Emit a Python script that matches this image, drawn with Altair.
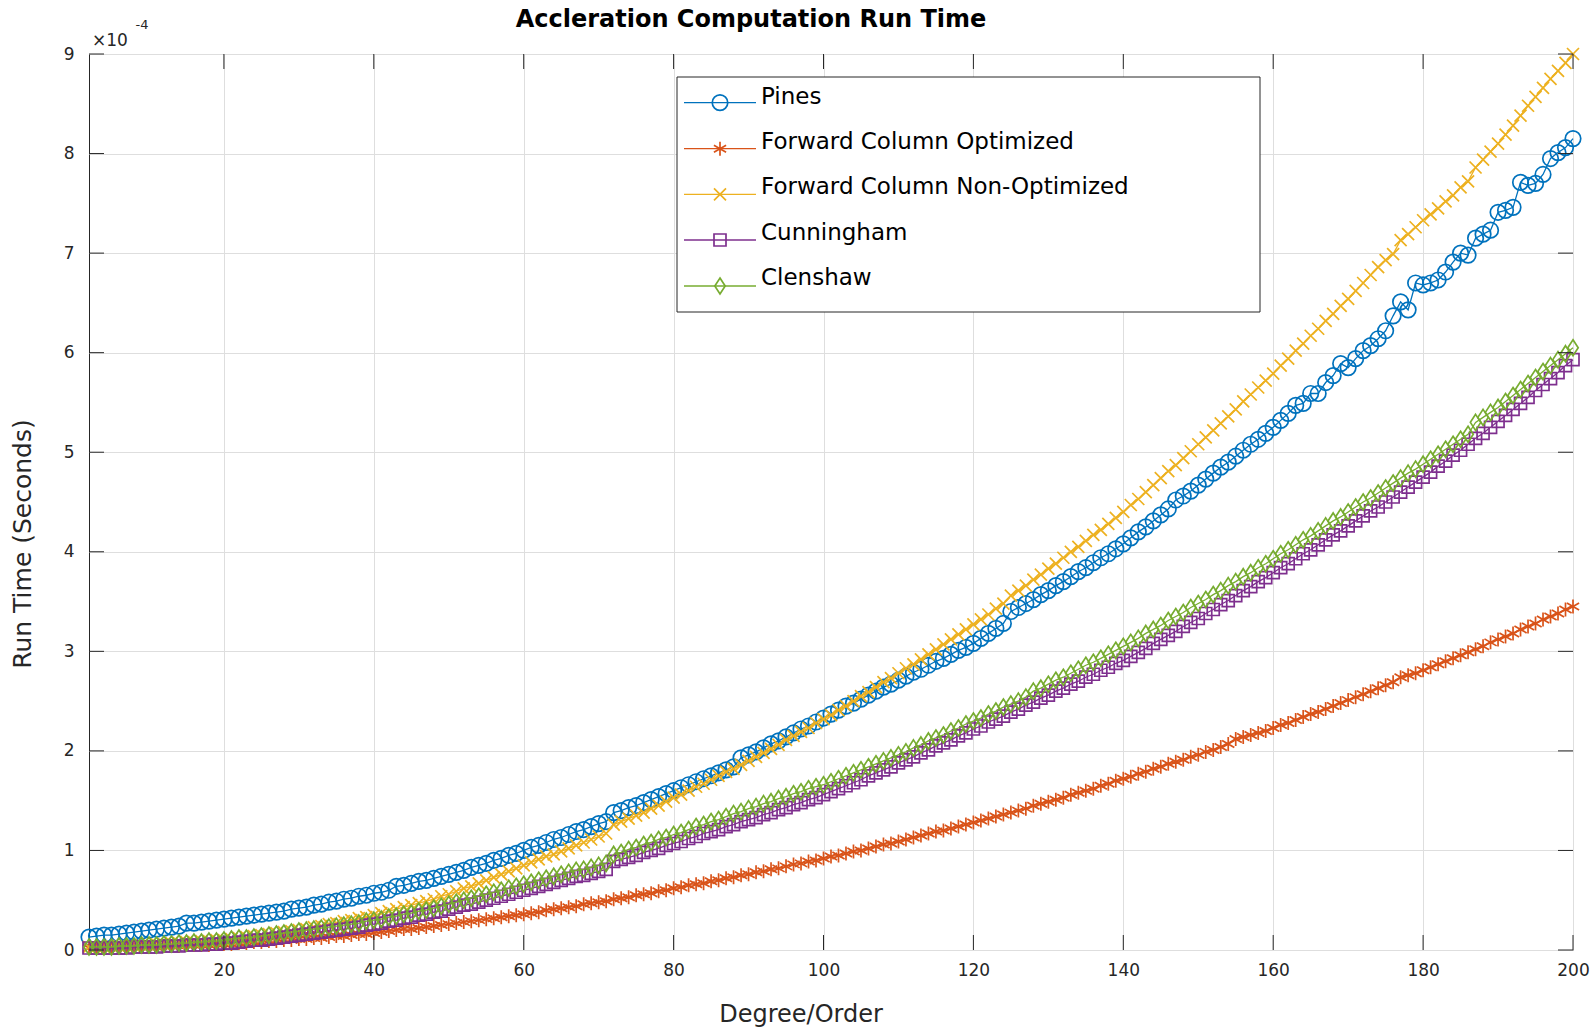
import altair as alt
import pandas as pd

# ---------------- data (run time, units of 1e-4 s) ----------------
degrees = list(range(2, 201))
series_names = ["Pines", "Forward Column Optimized", "Forward Column Non-Optimized",
                "Cunningham", "Clenshaw"]

pines = [
    0.13, 0.14, 0.15, 0.15, 0.16, 0.17, 0.18, 0.19, 0.20,
    0.21, 0.22, 0.23, 0.24, 0.27, 0.27, 0.28, 0.29, 0.30, 0.31,
    0.32, 0.33, 0.34, 0.35, 0.36, 0.37, 0.38, 0.39, 0.41, 0.42,
    0.43, 0.45, 0.46, 0.48, 0.49, 0.51, 0.52, 0.54, 0.55, 0.57,
    0.58, 0.60, 0.64, 0.65, 0.67, 0.69, 0.70, 0.72, 0.74, 0.76,
    0.78, 0.80, 0.83, 0.85, 0.87, 0.90, 0.92, 0.95, 0.97, 1.00,
    1.03, 1.05, 1.08, 1.11, 1.13, 1.16, 1.19, 1.21, 1.24, 1.27,
    1.29, 1.38, 1.40, 1.43, 1.45, 1.48, 1.51, 1.54, 1.57, 1.60,
    1.63, 1.66, 1.69, 1.72, 1.75, 1.78, 1.81, 1.84, 1.93, 1.96,
    1.99, 2.03, 2.07, 2.10, 2.14, 2.18, 2.22, 2.25, 2.29, 2.33,
    2.37, 2.41, 2.45, 2.48, 2.52, 2.56, 2.60, 2.64, 2.67, 2.71,
    2.75, 2.79, 2.82, 2.86, 2.90, 2.93, 2.97, 3.01, 3.04, 3.08,
    3.13, 3.18, 3.23, 3.28, 3.40, 3.44, 3.48, 3.52, 3.57, 3.61,
    3.66, 3.70, 3.75, 3.80, 3.84, 3.89, 3.94, 3.98, 4.03, 4.08,
    4.14, 4.20, 4.25, 4.31, 4.37, 4.43, 4.52, 4.56, 4.61, 4.67,
    4.73, 4.79, 4.85, 4.90, 4.96, 5.02, 5.08, 5.13, 5.19, 5.25,
    5.32, 5.39, 5.47, 5.49, 5.59, 5.59, 5.70, 5.77, 5.89, 5.85,
    5.94, 6.02, 6.07, 6.14, 6.22, 6.37, 6.51, 6.43, 6.70, 6.68,
    6.70, 6.73, 6.81, 6.91, 7.00, 6.98, 7.15, 7.19, 7.23, 7.41,
    7.43, 7.46, 7.71, 7.68, 7.70, 7.79, 7.95, 8.01, 8.06, 8.15,
]

fwd_opt = [
    0.02, 0.02, 0.02, 0.02, 0.02, 0.03, 0.03, 0.03, 0.03,
    0.03, 0.04, 0.04, 0.04, 0.05, 0.05, 0.05, 0.05, 0.06, 0.06,
    0.06, 0.07, 0.07, 0.08, 0.08, 0.09, 0.09, 0.10, 0.10, 0.11,
    0.11, 0.12, 0.12, 0.13, 0.14, 0.14, 0.15, 0.16, 0.16, 0.17,
    0.18, 0.19, 0.20, 0.21, 0.21, 0.22, 0.23, 0.24, 0.25, 0.26,
    0.27, 0.28, 0.29, 0.30, 0.31, 0.32, 0.33, 0.34, 0.35, 0.36,
    0.37, 0.38, 0.40, 0.41, 0.42, 0.43, 0.44, 0.46, 0.47, 0.48,
    0.49, 0.51, 0.52, 0.53, 0.55, 0.56, 0.57, 0.59, 0.60, 0.62,
    0.63, 0.65, 0.66, 0.67, 0.69, 0.70, 0.72, 0.73, 0.75, 0.76,
    0.78, 0.79, 0.81, 0.82, 0.84, 0.86, 0.87, 0.89, 0.90, 0.92,
    0.94, 0.95, 0.97, 0.99, 1.00, 1.02, 1.04, 1.06, 1.07, 1.09,
    1.11, 1.13, 1.15, 1.17, 1.19, 1.20, 1.22, 1.24, 1.26, 1.28,
    1.30, 1.32, 1.34, 1.36, 1.38, 1.40, 1.42, 1.45, 1.47, 1.49,
    1.51, 1.53, 1.56, 1.58, 1.60, 1.62, 1.65, 1.67, 1.70, 1.72,
    1.74, 1.77, 1.79, 1.82, 1.84, 1.87, 1.89, 1.91, 1.94, 1.96,
    1.99, 2.01, 2.04, 2.07, 2.12, 2.14, 2.16, 2.18, 2.20, 2.23,
    2.26, 2.28, 2.31, 2.34, 2.37, 2.39, 2.42, 2.45, 2.48, 2.51,
    2.54, 2.57, 2.60, 2.63, 2.66, 2.69, 2.74, 2.76, 2.78, 2.81,
    2.84, 2.87, 2.90, 2.93, 2.96, 2.99, 3.02, 3.05, 3.09, 3.12,
    3.15, 3.18, 3.22, 3.25, 3.28, 3.32, 3.35, 3.38, 3.42, 3.45,
]

fwd_nonopt = [
    0.03, 0.03, 0.03, 0.04, 0.04, 0.04, 0.04, 0.05, 0.05,
    0.06, 0.06, 0.07, 0.07, 0.08, 0.08, 0.09, 0.09, 0.10, 0.10,
    0.11, 0.12, 0.13, 0.14, 0.15, 0.16, 0.17, 0.18, 0.19, 0.20,
    0.21, 0.23, 0.24, 0.26, 0.27, 0.29, 0.30, 0.32, 0.33, 0.35,
    0.37, 0.39, 0.41, 0.43, 0.45, 0.47, 0.49, 0.51, 0.54, 0.56,
    0.59, 0.62, 0.64, 0.67, 0.70, 0.73, 0.76, 0.79, 0.82, 0.85,
    0.88, 0.91, 0.94, 0.96, 0.99, 1.02, 1.05, 1.08, 1.11, 1.14,
    1.17, 1.26, 1.29, 1.32, 1.35, 1.38, 1.42, 1.45, 1.49, 1.53,
    1.56, 1.60, 1.64, 1.67, 1.71, 1.75, 1.79, 1.82, 1.86, 1.90,
    1.94, 1.98, 2.02, 2.06, 2.11, 2.15, 2.19, 2.23, 2.28, 2.32,
    2.36, 2.41, 2.45, 2.50, 2.55, 2.59, 2.64, 2.69, 2.73, 2.78,
    2.83, 2.87, 2.92, 2.97, 3.02, 3.07, 3.12, 3.17, 3.22, 3.27,
    3.32, 3.37, 3.43, 3.48, 3.56, 3.61, 3.66, 3.72, 3.77, 3.83,
    3.88, 3.94, 4.00, 4.05, 4.11, 4.17, 4.22, 4.28, 4.34, 4.40,
    4.47, 4.53, 4.60, 4.67, 4.74, 4.81, 4.87, 4.94, 5.01, 5.08,
    5.15, 5.22, 5.29, 5.36, 5.43, 5.51, 5.58, 5.65, 5.72, 5.79,
    5.87, 5.94, 6.02, 6.09, 6.17, 6.24, 6.32, 6.39, 6.47, 6.54,
    6.62, 6.70, 6.78, 6.86, 6.93, 6.99, 7.13, 7.19, 7.26, 7.33,
    7.39, 7.45, 7.52, 7.58, 7.66, 7.72, 7.86, 7.94, 8.02, 8.10,
    8.19, 8.28, 8.38, 8.48, 8.57, 8.66, 8.75, 8.83, 8.91, 9.00,
]

cunningham = [
    0.02, 0.02, 0.02, 0.02, 0.02, 0.02, 0.03, 0.03, 0.03,
    0.03, 0.04, 0.04, 0.04, 0.05, 0.05, 0.05, 0.06, 0.06, 0.07,
    0.07, 0.08, 0.09, 0.10, 0.10, 0.11, 0.12, 0.13, 0.14, 0.15,
    0.16, 0.17, 0.18, 0.19, 0.20, 0.21, 0.22, 0.23, 0.25, 0.26,
    0.27, 0.29, 0.30, 0.32, 0.33, 0.35, 0.36, 0.38, 0.39, 0.41,
    0.43, 0.45, 0.46, 0.48, 0.50, 0.52, 0.54, 0.56, 0.58, 0.60,
    0.62, 0.64, 0.66, 0.68, 0.70, 0.72, 0.74, 0.75, 0.77, 0.79,
    0.81, 0.89, 0.91, 0.93, 0.95, 0.98, 1.00, 1.02, 1.05, 1.07,
    1.09, 1.12, 1.14, 1.17, 1.19, 1.21, 1.24, 1.26, 1.29, 1.31,
    1.33, 1.36, 1.38, 1.41, 1.43, 1.46, 1.48, 1.51, 1.53, 1.56,
    1.59, 1.62, 1.65, 1.68, 1.71, 1.75, 1.78, 1.81, 1.84, 1.88,
    1.91, 1.94, 1.98, 2.01, 2.05, 2.08, 2.11, 2.15, 2.18, 2.22,
    2.25, 2.29, 2.32, 2.35, 2.39, 2.42, 2.46, 2.49, 2.53, 2.56,
    2.60, 2.63, 2.67, 2.70, 2.74, 2.77, 2.81, 2.84, 2.88, 2.91,
    2.95, 2.99, 3.03, 3.08, 3.12, 3.16, 3.20, 3.25, 3.29, 3.33,
    3.38, 3.42, 3.47, 3.51, 3.56, 3.61, 3.65, 3.70, 3.74, 3.79,
    3.84, 3.88, 3.93, 3.98, 4.02, 4.07, 4.12, 4.17, 4.21, 4.26,
    4.31, 4.36, 4.41, 4.45, 4.50, 4.55, 4.60, 4.65, 4.70, 4.75,
    4.80, 4.86, 4.91, 4.97, 5.02, 5.08, 5.14, 5.19, 5.25, 5.31,
    5.37, 5.43, 5.49, 5.55, 5.62, 5.68, 5.74, 5.80, 5.87, 5.93,
]

clenshaw = [
    0.03, 0.03, 0.03, 0.03, 0.04, 0.04, 0.04, 0.05, 0.05,
    0.05, 0.06, 0.06, 0.07, 0.07, 0.08, 0.08, 0.09, 0.09, 0.10,
    0.11, 0.12, 0.12, 0.13, 0.14, 0.15, 0.16, 0.17, 0.18, 0.19,
    0.20, 0.21, 0.22, 0.23, 0.24, 0.25, 0.26, 0.27, 0.29, 0.30,
    0.31, 0.33, 0.34, 0.36, 0.37, 0.39, 0.40, 0.42, 0.44, 0.46,
    0.48, 0.50, 0.52, 0.54, 0.56, 0.58, 0.60, 0.62, 0.64, 0.66,
    0.68, 0.70, 0.72, 0.74, 0.76, 0.78, 0.80, 0.81, 0.83, 0.85,
    0.87, 0.96, 0.98, 1.01, 1.03, 1.06, 1.08, 1.11, 1.13, 1.16,
    1.18, 1.21, 1.24, 1.26, 1.29, 1.31, 1.34, 1.37, 1.39, 1.42,
    1.44, 1.47, 1.49, 1.52, 1.54, 1.57, 1.59, 1.62, 1.64, 1.66,
    1.69, 1.72, 1.75, 1.78, 1.81, 1.84, 1.87, 1.90, 1.93, 1.96,
    1.99, 2.03, 2.06, 2.10, 2.13, 2.16, 2.20, 2.23, 2.27, 2.30,
    2.33, 2.37, 2.40, 2.44, 2.47, 2.50, 2.54, 2.60, 2.63, 2.67,
    2.71, 2.74, 2.78, 2.82, 2.86, 2.89, 2.93, 2.97, 3.01, 3.05,
    3.09, 3.13, 3.18, 3.22, 3.26, 3.31, 3.35, 3.39, 3.44, 3.48,
    3.52, 3.57, 3.61, 3.66, 3.70, 3.75, 3.79, 3.84, 3.88, 3.93,
    3.98, 4.02, 4.07, 4.12, 4.16, 4.21, 4.26, 4.31, 4.35, 4.40,
    4.45, 4.50, 4.54, 4.59, 4.64, 4.69, 4.74, 4.79, 4.83, 4.88,
    4.93, 4.98, 5.03, 5.08, 5.13, 5.18, 5.30, 5.35, 5.40, 5.45,
    5.51, 5.57, 5.63, 5.69, 5.75, 5.81, 5.87, 5.93, 5.99, 6.05,
]

x_ticks = [20, 40, 60, 80, 100, 120, 140, 160, 180, 200]
y_ticks = [0, 1, 2, 3, 4, 5, 6, 7, 8, 9]

series_values = [pines, fwd_opt, fwd_nonopt, cunningham, clenshaw]
for s in series_values:
    assert len(s) == len(degrees), len(s)

# ---------------- styles ----------------
FONT = "DejaVu Sans"
TXT = "#262626"
W, H = 1484, 896
colors = ["#0072BD", "#D95319", "#EDB120", "#7E2F8E", "#77AC30"]
ASTERISK = "M0,-1L0,1M-0.87,-0.5L0.87,0.5M-0.87,0.5L0.87,-0.5"
XMARK = "M-0.75,-0.75L0.75,0.75M-0.75,0.75L0.75,-0.75"
DIAMOND = "M0,-1L0.65,0L0,1L-0.65,0Z"
shapes = ["circle", ASTERISK, XMARK, "square", DIAMOND]
sizes = [240, 196, 256, 144, 256]
MSW = 1.7

rows = []
for name, vals in zip(series_names, series_values):
    for d, v in zip(degrees, vals):
        rows.append({"degree": d, "value": v, "series": name})
df = pd.DataFrame(rows)

x_scale = alt.Scale(domain=[2, 200], nice=False, zero=False)
y_scale = alt.Scale(domain=[0, 9], nice=False, zero=False)

x_axis = alt.Axis(values=x_ticks, title=None, grid=True, gridColor="#dedede",
                  gridWidth=1, ticks=False, tickSize=0, domain=False,
                  labelFont=FONT, labelFontSize=17, labelColor=TXT,
                  labelPadding=12, labelFlush=False, labelOverlap=False)
y_axis = alt.Axis(values=y_ticks, title=None, grid=True, gridColor="#dedede",
                  gridWidth=1, ticks=False, tickSize=0, domain=False,
                  labelFont=FONT, labelFontSize=17, labelColor=TXT,
                  labelPadding=15, labelFlush=False, labelOverlap=False,
                  format="d")

layers = []
for name, col, shp, sz in zip(series_names, colors, shapes, sizes):
    base = alt.Chart(df).transform_filter(alt.datum.series == name).encode(
        x=alt.X("degree:Q", scale=x_scale, axis=x_axis),
        y=alt.Y("value:Q", scale=y_scale, axis=y_axis),
    )
    layers.append(base.mark_line(color=col, strokeWidth=1.3))
    layers.append(base.mark_point(shape=shp, size=sz, filled=False, color=col,
                                  strokeWidth=MSW, opacity=1))

# inward ticks on all four sides
ydf = pd.DataFrame({"v": y_ticks})
xdf = pd.DataFrame({"t": x_ticks})
TL = 15
yenc = alt.Y("v:Q", scale=y_scale, axis=y_axis)
xenc = alt.X("t:Q", scale=x_scale, axis=x_axis)
layers.append(alt.Chart(ydf).mark_rule(color=TXT, strokeWidth=1).encode(
    y=yenc, x=alt.value(0), x2=alt.value(TL)))
layers.append(alt.Chart(ydf).mark_rule(color=TXT, strokeWidth=1).encode(
    y=yenc, x=alt.value(W - TL), x2=alt.value(W)))
layers.append(alt.Chart(xdf).mark_rule(color=TXT, strokeWidth=1).encode(
    x=xenc, y=alt.value(H - TL), y2=alt.value(H)))
layers.append(alt.Chart(xdf).mark_rule(color=TXT, strokeWidth=1).encode(
    x=xenc, y=alt.value(0), y2=alt.value(TL)))

# legend (box, line samples, markers, labels)
one = pd.DataFrame({"k": [0]})
layers.append(alt.Chart(one).mark_rect(fill="white", stroke=TXT, strokeWidth=1).encode(
    x=alt.value(588), x2=alt.value(1171), y=alt.value(23), y2=alt.value(258)))
line_y = [48.7, 94.7, 140.3, 186.0, 232.0]
text_y = [42.5, 87.5, 133.0, 178.5, 224.0]
for name, col, shp, sz, ly, ty in zip(series_names, colors, shapes, sizes, line_y, text_y):
    ndf = pd.DataFrame({"series": [name]})
    layers.append(alt.Chart(ndf).mark_rule(color=col, strokeWidth=1.3).encode(
        x=alt.value(595), x2=alt.value(667), y=alt.value(ly)))
    layers.append(alt.Chart(ndf).mark_point(shape=shp, size=sz, filled=False, color=col,
                                            strokeWidth=MSW, opacity=1).encode(
        x=alt.value(631), y=alt.value(ly)))
    layers.append(alt.Chart(ndf).mark_text(align="left", baseline="middle", font=FONT,
                                           fontSize=23, color="black").encode(
        x=alt.value(672), y=alt.value(ty), text="series:N"))

# titles and exponent label
def label(txt, x, y, size, weight="normal", angle=0, color=TXT, align="center"):
    return alt.Chart(pd.DataFrame({"t": [txt]})).mark_text(
        align=align, baseline="middle", font=FONT, fontSize=size, fontWeight=weight,
        angle=angle, color=color).encode(x=alt.value(x), y=alt.value(y), text="t:N")

layers.append(label("Accleration Computation Run Time", 662, -34, 24, weight="bold", color="black"))
layers.append(label("Degree/Order", 712, 961, 24))
layers.append(label("Run Time (Seconds)", -66, 490, 25, angle=270))
layers.append(label("\u00d710", 21, -13, 17))
layers.append(label("-4", 53, -29, 13))

chart = alt.layer(*layers).properties(
    width=W, height=H,
    autosize=alt.AutoSizeParams(type="none"),
    padding={"left": 89, "top": 54, "right": 22, "bottom": 81},
    background="white",
).configure_view(stroke=TXT, strokeWidth=1)

chart.save("out.html", embed_options={"renderer": "svg", "actions": False})
